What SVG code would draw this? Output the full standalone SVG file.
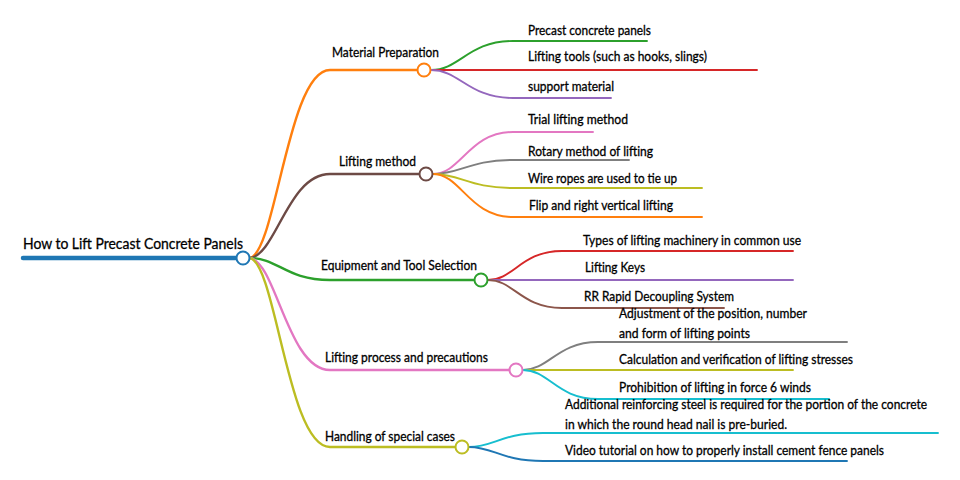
<svg xmlns="http://www.w3.org/2000/svg" width="960" height="480" viewBox="0 0 960 480">
<style>
text{font-family:Lato,"Open Sans","Liberation Sans",sans-serif;font-size:13.2px;fill:#000;stroke:#000;stroke-width:0.3px}
.root{font-size:15.5px}
path{fill:none;stroke-linecap:round}
.l1{stroke-width:2.4}
.l2{stroke-width:1.9}
circle{fill:#fff;stroke-width:2}
</style>
<rect width="960" height="480" fill="#fff"/>
<g id="connectors">
<path d="M23,258 H237" stroke="#1f77b4" stroke-width="4.5" stroke-linecap="butt"/>
<path class="l1" stroke="#ff7f0e" d="M250,258 C276,252 288,70 330,70 H418"/>
<path class="l1" stroke="#6d4a45" d="M250,258 C276,255 288,174 330,174 H420"/>
<path class="l1" stroke="#2ca02c" d="M250,258 C278,258 286,280 330,280 H475"/>
<path class="l1" stroke="#e377c2" d="M250,258 C276,262 288,370 330,370 H510"/>
<path class="l1" stroke="#bcbd22" d="M250,258 C276,264 288,447 330,447 H456"/>
<path class="l2" stroke="#2ca02c" d="M431,70 C460,70 468,41 513,41 H647"/>
<path class="l2" stroke="#d62728" d="M431,70 H757"/>
<path class="l2" stroke="#9467bd" d="M431,70 C460,70 468,98 513,98 H611"/>
<path class="l2" stroke="#e377c2" d="M433,174 C461,174 469,132 513,132 H593"/>
<path class="l2" stroke="#7f7f7f" d="M433,174 C461,174 469,160 513,160 H629"/>
<path class="l2" stroke="#bcbd22" d="M433,174 C461,174 469,188 513,188 H702"/>
<path class="l2" stroke="#ff7f0e" d="M433,174 C461,174 469,217 513,217 H702"/>
<path class="l2" stroke="#d62728" d="M488,280 C514,280 521,251 562,251 H793"/>
<path class="l2" stroke="#9467bd" d="M488,280 H793"/>
<path class="l2" stroke="#8c564b" d="M488,280 C514,280 521,308 562,308 H724"/>
<path class="l2" stroke="#7f7f7f" d="M523,370 C549,370 557,342 598,342 H847"/>
<path class="l2" stroke="#bcbd22" d="M523,370 H793"/>
<path class="l2" stroke="#17becf" d="M523,370 C549,370 557,399 598,399 H829"/>
<path class="l2" stroke="#17becf" d="M469,447 C494,447 501,433 543,433 H938"/>
<path class="l2" stroke="#1f77b4" d="M469,447 C494,447 501,461 543,461 H847"/>
</g>
<g id="root">
<circle cx="243" cy="258" r="6.5" stroke="#1f77b4"/>
<text class="root" x="23" y="249" textLength="220" lengthAdjust="spacingAndGlyphs">How to Lift Precast Concrete Panels</text>
</g>
<g id="material-preparation">
<circle cx="424" cy="70" r="6.5" stroke="#ff7f0e"/>
<text x="332" y="57" textLength="107" lengthAdjust="spacingAndGlyphs">Material Preparation</text>
</g>
<g id="lifting-method">
<circle cx="426" cy="174" r="6.5" stroke="#6d4a45"/>
<text x="339" y="166" textLength="77" lengthAdjust="spacingAndGlyphs">Lifting method</text>
</g>
<g id="equipment">
<circle cx="481" cy="280" r="6.5" stroke="#2ca02c"/>
<text x="321" y="270" textLength="156" lengthAdjust="spacingAndGlyphs">Equipment and Tool Selection</text>
</g>
<g id="lifting-process">
<circle cx="516" cy="370" r="6.5" stroke="#e377c2"/>
<text x="325" y="362" textLength="163" lengthAdjust="spacingAndGlyphs">Lifting process and precautions</text>
</g>
<g id="special-cases">
<circle cx="462" cy="447" r="6.5" stroke="#bcbd22"/>
<text x="325" y="441" textLength="130" lengthAdjust="spacingAndGlyphs">Handling of special cases</text>
</g>
<g id="precast-panels"><text x="528" y="35" textLength="123" lengthAdjust="spacingAndGlyphs">Precast concrete panels</text></g>
<g id="lifting-tools"><text x="528" y="61" textLength="179" lengthAdjust="spacingAndGlyphs">Lifting tools (such as hooks, slings)</text></g>
<g id="support-material"><text x="528" y="91" textLength="86" lengthAdjust="spacingAndGlyphs">support material</text></g>
<g id="trial-lifting"><text x="528" y="124" textLength="100" lengthAdjust="spacingAndGlyphs">Trial lifting method</text></g>
<g id="rotary"><text x="528" y="156" textLength="125" lengthAdjust="spacingAndGlyphs">Rotary method of lifting</text></g>
<g id="wire-ropes"><text x="528" y="183" textLength="149" lengthAdjust="spacingAndGlyphs">Wire ropes are used to tie up</text></g>
<g id="flip"><text x="529" y="210" textLength="144" lengthAdjust="spacingAndGlyphs">Flip and right vertical lifting</text></g>
<g id="types-machinery"><text x="583" y="245" textLength="218" lengthAdjust="spacingAndGlyphs">Types of lifting machinery in common use</text></g>
<g id="lifting-keys"><text x="585" y="272" textLength="60" lengthAdjust="spacingAndGlyphs">Lifting Keys</text></g>
<g id="rr-system"><text x="584" y="301" textLength="150" lengthAdjust="spacingAndGlyphs">RR Rapid Decoupling System</text></g>
<g id="adjustment">
<text x="619" y="318" textLength="188" lengthAdjust="spacingAndGlyphs">Adjustment of the position, number</text>
<text x="619" y="338" textLength="131" lengthAdjust="spacingAndGlyphs">and form of lifting points</text>
</g>
<g id="calculation"><text x="619" y="364" textLength="234" lengthAdjust="spacingAndGlyphs">Calculation and verification of lifting stresses</text></g>
<g id="prohibition"><text x="619" y="392" textLength="192" lengthAdjust="spacingAndGlyphs">Prohibition of lifting in force 6 winds</text></g>
<g id="additional-steel">
<text x="565" y="409" textLength="362" lengthAdjust="spacingAndGlyphs">Additional reinforcing steel is required for the portion of the concrete</text>
<text x="565" y="429" textLength="222" lengthAdjust="spacingAndGlyphs">in which the round head nail is pre-buried.</text>
</g>
<g id="video-tutorial"><text x="565" y="455" textLength="319" lengthAdjust="spacingAndGlyphs">Video tutorial on how to properly install cement fence panels</text></g>
</svg>
